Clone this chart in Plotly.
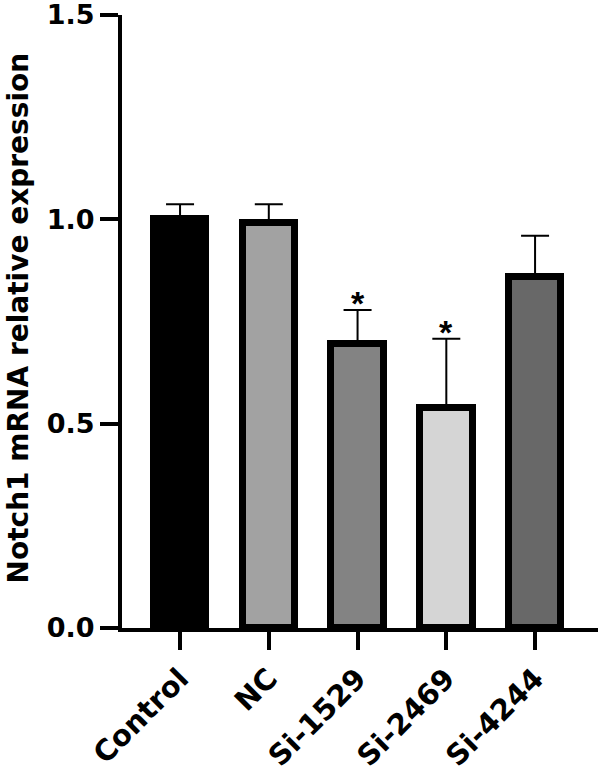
import plotly.graph_objects as go

categories = ["Control", "NC", "Si-1529", "Si-2469", "Si-4244"]
means = [1.0, 0.99, 0.696, 0.539, 0.86]
errors = [0.037, 0.047, 0.082, 0.169, 0.10]
colors = ["#000000", "#a2a2a2", "#838383", "#d5d5d5", "#686868"]
significant = [False, False, True, True, False]
y_ticks = [0.0, 0.5, 1.0, 1.5]

FONT = "DejaVu Sans, sans-serif"
STAR_FONT = "Liberation Sans, Arial, sans-serif"

fig = go.Figure()
fig.add_trace(go.Bar(
    x=categories,
    y=means,
    width=0.59,
    marker=dict(color=colors, line=dict(color="black", width=7)),
    error_y=dict(type="data", array=errors, arrayminus=[0] * len(errors),
                 symmetric=False, thickness=2, width=14, color="black"),
    showlegend=False,
))

for c, m, e, s in zip(categories, means, errors, significant):
    if s:
        fig.add_annotation(x=c, y=m + e, text="*", showarrow=False,
                           xanchor="center", yanchor="bottom", yshift=-14,
                           font=dict(family=STAR_FONT, size=34, color="black", weight="bold"))

fig.add_annotation(text="Notch1 mRNA relative expression", textangle=-90,
                   xref="paper", yref="paper", x=0, y=0.5, xshift=-104, yshift=3,
                   xanchor="center", yanchor="middle", showarrow=False,
                   font=dict(family=FONT, size=28, color="black", weight="bold"))

fig.update_layout(
    width=600, height=774,
    margin=dict(l=122, r=2, t=15, b=146),
    plot_bgcolor="white", paper_bgcolor="white",
    bargap=0,
)
fig.update_xaxes(
    type="category", range=[-0.654, 4.709], automargin=False,
    showline=True, linewidth=4, linecolor="black",
    ticks="outside", ticklen=18, tickwidth=4, tickcolor="black",
    tickangle=-45, showgrid=False, zeroline=False,
    ticklabeloverflow="allow",
    tickfont=dict(family=FONT, size=29, color="black", weight="bold"),
)
fig.update_yaxes(
    range=[0, 1.5], tickvals=y_ticks, tickformat=".1f", automargin=False,
    showline=True, linewidth=4, linecolor="black",
    ticks="outside", ticklen=18, tickwidth=4, tickcolor="black",
    showgrid=False, zeroline=False,
    ticklabeloverflow="allow",
    tickfont=dict(family=FONT, size=27, color="black", weight="bold"),
)

fig.write_html("out.html", config={"displayModeBar": False},
               post_script="document.body.style.margin='0';")
